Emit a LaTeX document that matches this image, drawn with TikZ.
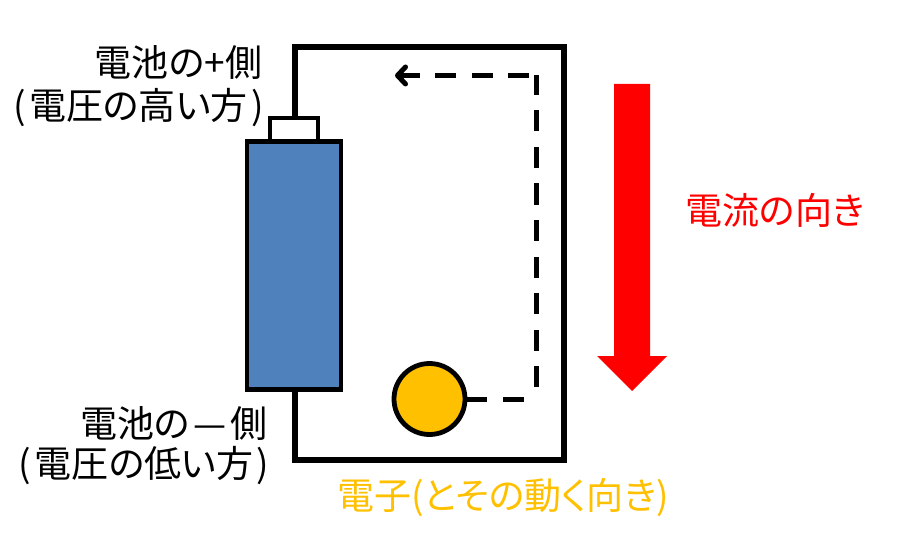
\documentclass[tikz,border=0pt]{standalone}
\usepackage{fontspec}
\setmainfont{Noto Sans CJK JP}
\newfontfamily\pfont[RawFeature=+palt]{Noto Sans CJK JP}
\usetikzlibrary{arrows.meta}
\definecolor{batblue}{RGB}{79,129,189}
\definecolor{elec}{RGB}{255,192,0}
\tikzset{wire/.style={line width=5.2pt,black},
edash/.style={line width=5pt,dash pattern=on 21pt off 15.5pt},
lab/.style={inner sep=0pt,font=\fontsize{37}{44}\selectfont,anchor=center}}
\begin{document}
\begin{tikzpicture}[x=1pt,y=-1pt]
\useasboundingbox (0,0) rectangle (904,556);
\coordinate (tr) at (564,47);
\coordinate (tl) at (295,47);
\coordinate (br) at (564,460);
\coordinate (bl) at (295,460);
\node[draw=black,line width=4.8pt,fill=white,minimum width=48pt,minimum height=24pt,inner sep=0pt] (cap) at (294,130) {};
\node[draw=black,line width=4.8pt,fill=batblue,minimum width=94pt,minimum height=248pt,inner sep=0pt] (bat) at (294,265.5) {};
\draw[wire,line join=miter] (cap.north-|tl) -- (tl) -- (tr) -- (br) -- (bl) -- (bat.south-|bl);
\node[draw=black,line width=4.8pt,fill=elec,circle,minimum size=71pt,inner sep=0pt] (e) at (429.5,399) {};
\coordinate (c2) at (536,75.5);
\coordinate (c3) at (395,75.5);
\coordinate (c1) at (e.east-|c2);
\draw[edash,dash phase=1pt] (e.east) -- (c1);
\draw[edash,dash phase=24.5pt] (c1) -- (c2);
\draw[edash,dash phase=29.5pt,-{Straight Barb[length=8pt,width=17pt,line width=5pt,round]}] (c2) -- (c3);
\fill[red] (614,84) -- (650,84) -- (650,356) -- (667,356) -- (632,391) -- (597,356) -- (614,356) -- cycle;
\node[lab] (a) at (178.5,62) {\pfont 電池の+側};
\node[lab] (b) at (138.5,108) {\pfont (\hspace{3.5pt}電圧の高い方\hspace{3.5pt})};
\node[lab] (c) at (174,423) {\pfont 電池の\hspace{4pt}\normalfont —\hspace{4pt}\pfont 側};
\node[lab] (d) at (144,466) {\pfont (\hspace{3.5pt}電圧の低い方\hspace{3.5pt})};
\node[lab,text=red] (f) at (775,210) {\pfont 電流の向き};
\node[lab,text=elec] (g) at (503,498) {\pfont 電子(とその動く向き)};
\end{tikzpicture}
\end{document}
